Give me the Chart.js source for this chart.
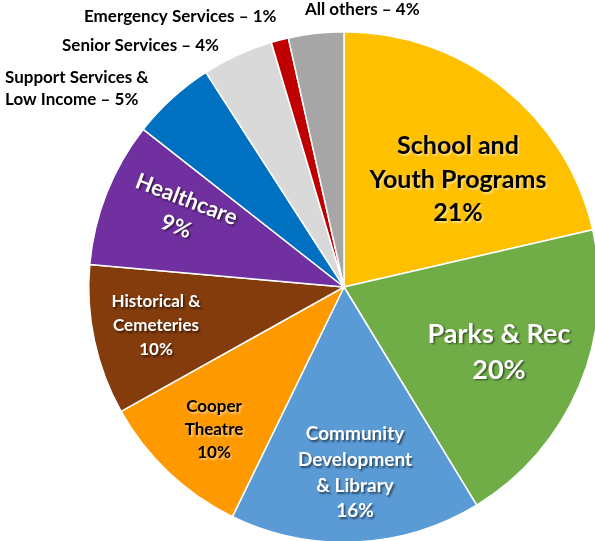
<!DOCTYPE html>
<html>
<head>
<meta charset="utf-8">
<script src="https://cdn.jsdelivr.net/npm/chart.js@4/dist/chart.umd.min.js"></script>
<style>
html,body{margin:0;padding:0;background:#fff;}
#wrap{position:relative;width:595px;height:541px;overflow:hidden;}
#c{position:absolute;left:0;top:0;}
</style>
</head>
<body>
<div id="wrap"><canvas id="c" width="620" height="560"></canvas></div>
<script>
// Data (slice order clockwise from 12 o'clock)
const categories = ["School and Youth Programs","Parks & Rec","Community Development & Library","Cooper Theatre","Historical & Cemeteries","Healthcare","Support Services & Low Income","Senior Services","Emergency Services","All others"];
const shares = [21.4, 19.9, 15.9, 9.7, 9.5, 9.2, 5.3, 4.5, 1.1, 3.5];
const shareLabels = ["21%","20%","16%","10%","10%","9%","5%","4%","1%","4%"];
const colors = ["#FFC000","#70AD47","#5B9BD5","#FF9900","#843C0C","#7030A0","#0070C0","#D9D9D9","#C00000","#A6A6A6"];

// Label layout (text annotation placement)
const labelLayout = [
  {lines:["School and","Youth Programs","21%"], x:458, y:[146,180,213], size:25, color:"#000", shadow:"rgba(255,255,255,0.5)"},
  {lines:["Parks & Rec","20%"], x:499, y:[334,370], size:27, color:"#fff", shadow:"rgba(0,0,0,0.55)"},
  {lines:["Community","Development","& Library","16%"], x:355, y:[434,460,486,511], size:19, color:"#fff", shadow:"rgba(0,0,0,0.55)"},
  {lines:["Cooper","Theatre","10%"], x:214, y:[407,430,453], size:17, color:"#000", shadow:"rgba(255,255,255,0.5)"},
  {lines:["Historical &","Cemeteries","10%"], x:156, y:[302,326,350], size:17, color:"#fff", shadow:"rgba(0,0,0,0.55)"},
  {lines:["Healthcare","9%"], x:182, y:[198,227], size:22, color:"#fff", shadow:"rgba(0,0,0,0.55)", rot:21, cx:180, cy:211},
  {lines:["Support Services &","Low Income \u2013 5%"], x:5, y:[78,100], size:17, color:"#000", align:"left"},
  {lines:["Senior Services \u2013 4%"], x:62, y:[46], size:17, color:"#000", align:"left"},
  {lines:["Emergency Services \u2013 1%"], x:84, y:[17], size:17, color:"#000", align:"left"},
  {lines:["All others \u2013 4%"], x:305, y:[10], size:17, color:"#000", align:"left"}
];

const labelPlugin = {
  id: 'sliceLabels',
  afterDatasetsDraw(chart) {
    const ctx = chart.ctx;
    labelLayout.forEach(l => {
      ctx.save();
      ctx.font = "bold " + l.size + "px Lato, 'Open Sans', sans-serif";
      ctx.fillStyle = l.color;
      ctx.textAlign = l.align || "center";
      ctx.textBaseline = "middle";
      if (l.shadow) {
        ctx.shadowColor = l.shadow;
        ctx.shadowOffsetX = 1.5;
        ctx.shadowOffsetY = 1.5;
        ctx.shadowBlur = 2;
      }
      if (l.rot) {
        ctx.translate(l.cx, l.cy);
        ctx.rotate(l.rot * Math.PI / 180);
        l.lines.forEach((t, i) => ctx.fillText(t, l.x - l.cx, l.y[i] - l.cy));
      } else {
        l.lines.forEach((t, i) => ctx.fillText(t, l.x, l.y[i]));
      }
      ctx.restore();
    });
  }
};

new Chart(document.getElementById('c'), {
  type: 'pie',
  data: {
    labels: categories,
    datasets: [{
      data: shares,
      backgroundColor: colors,
      borderColor: "#ffffff",
      borderWidth: 1.5
    }]
  },
  options: {
    responsive: false,
    animation: false,
    devicePixelRatio: 1,
    layout: { padding: { left: 88, top: 31, right: 20, bottom: 17 } },
    plugins: { legend: { display: false }, tooltip: { enabled: false } }
  },
  plugins: [labelPlugin]
});
</script>
</body>
</html>
